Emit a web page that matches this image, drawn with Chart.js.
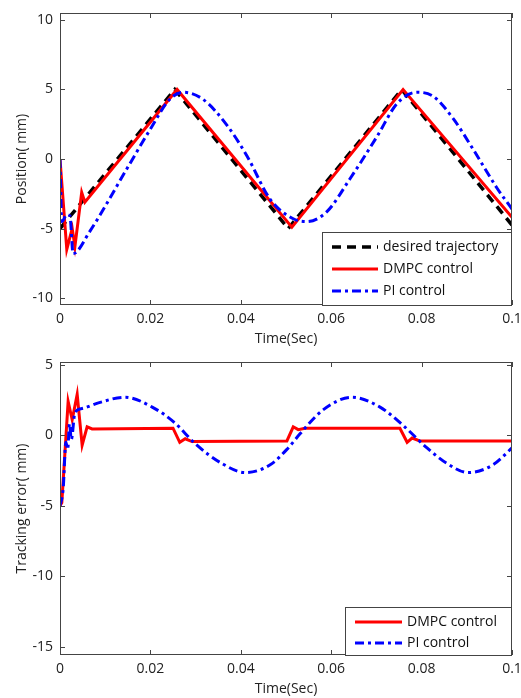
<!DOCTYPE html>
<html>
<head>
<meta charset="utf-8">
<script src="https://cdn.jsdelivr.net/npm/chart.js@4"></script>
<style>
  html, body { margin: 0; padding: 0; background: #fff; }
  #wrap { position: relative; width: 521px; height: 698px; overflow: hidden; }
  canvas { position: absolute; left: 0; }
  #posChart { top: 0; }
  #errChart { top: 340px; }
</style>
</head>
<body>
<div id="wrap">
  <canvas id="posChart" width="521" height="350"></canvas>
  <canvas id="errChart" width="521" height="358"></canvas>
</div>
<script>
// position (mm) over time (s)
const timeDesired = [0, 0.0254, 0.0505, 0.0756, 0.1];
const posDesired = [-5, 5, -5, 5, -4.75];

const timeDmpc = [0, 0.0015, 0.0027, 0.0033, 0.0048, 0.0055, 0.0259, 0.0513, 0.0759, 0.1];
const posDmpc = [0, -6.5, -5, -6.3, -2.4, -3.1, 5, -4.9, 5, -4.2];

const timePi = [0, 0.0004, 0.0015, 0.0022, 0.0029, 0.0066, 0.0148, 0.0199, 0.0243, 0.0272,
  0.0316, 0.037, 0.0414, 0.0465, 0.0516, 0.0546, 0.059, 0.0642, 0.0701, 0.0746,
  0.079, 0.0826, 0.087, 0.0914, 0.0967, 0.1];
const posPi = [0, -4.5, -4, -4.1, -6.8, -5.2, -0.7, 2.1, 4.3, 4.8,
  4.3, 2.4, 0.2, -2.9, -4.3, -4.5, -3.8, -1.4, 1.6, 4.0,
  4.8, 4.5, 2.9, 0.7, -2.1, -3.6];

// tracking error (mm) over time (s)
const timeErrDmpc = [0, 0.0004, 0.0018, 0.0027, 0.0038, 0.0049, 0.006, 0.0071, 0.025, 0.0265,
  0.0277, 0.0292, 0.0502, 0.0516, 0.0527, 0.0542, 0.0752, 0.0768, 0.0779, 0.0796, 0.1];
const errDmpc = [-5, -4.8, 2.4, 1.1, 2.9, -0.7, 0.6, 0.45, 0.5, -0.5,
  -0.25, -0.45, -0.4, 0.6, 0.4, 0.5, 0.5, -0.5, -0.2, -0.4, -0.4];

const timeErrPi = [0, 0.0007, 0.0013, 0.0017, 0.0021, 0.0025, 0.0033, 0.0049, 0.0085, 0.0144,
  0.0204, 0.0255, 0.0299, 0.0358, 0.041, 0.0465, 0.0505, 0.0531, 0.0582, 0.0646,
  0.0708, 0.0759, 0.0812, 0.0856, 0.0903, 0.0958, 0.1];
const errPi = [-5, -3.8, -0.5, -1.0, 0.8, -0.3, 1.6, 1.9, 2.3, 2.7,
  2.0, 0.85, -0.6, -2.0, -2.65, -2.1, -0.9, 0.1, 1.8, 2.7,
  2.0, 0.7, -0.9, -2.0, -2.65, -2.1, -0.9];

const timeTicks = [0, 0.02, 0.04, 0.06, 0.08, 0.1];

Chart.defaults.font.family = "'Open Sans', sans-serif";
Chart.defaults.font.size = 14;
Chart.defaults.color = '#222';

const toXY = (xs, ys) => xs.map((x, i) => ({ x, y: ys[i] }));

// box around the plot area with short inward ticks on all four sides
const framePlugin = {
  id: 'frame',
  afterDatasetsDraw(chart) {
    const { ctx, chartArea: a, scales } = chart;
    ctx.save();
    ctx.strokeStyle = '#444';
    ctx.lineWidth = 1;
    ctx.strokeRect(a.left + 0.5, a.top + 0.5, a.width - 1, a.height - 1);
    ctx.beginPath();
    scales.x.ticks.forEach(t => {
      const px = Math.round(scales.x.getPixelForValue(t.value)) + 0.5;
      ctx.moveTo(px, a.bottom); ctx.lineTo(px, a.bottom - 5);
      ctx.moveTo(px, a.top); ctx.lineTo(px, a.top + 5);
    });
    scales.y.ticks.forEach(t => {
      const py = Math.round(scales.y.getPixelForValue(t.value)) + 0.5;
      ctx.moveTo(a.left, py); ctx.lineTo(a.left + 5, py);
      ctx.moveTo(a.right, py); ctx.lineTo(a.right - 5, py);
    });
    ctx.stroke();
    ctx.restore();
  }
};

// legend box in the lower right corner of the plot area
const boxLegendPlugin = {
  id: 'boxLegend',
  afterDraw(chart, args, opts) {
    const { ctx, chartArea: a } = chart;
    const left = a.right - opts.width;
    const top = a.bottom - opts.height;
    ctx.save();
    ctx.fillStyle = '#fff';
    ctx.fillRect(left, top, opts.width, opts.height);
    ctx.strokeStyle = '#444';
    ctx.lineWidth = 1;
    ctx.strokeRect(left + 0.5, top + 0.5, opts.width - 1, opts.height);
    ctx.font = "14px 'Open Sans', sans-serif";
    ctx.textBaseline = 'middle';
    chart.data.datasets.forEach((ds, i) => {
      const y = top + opts.rows[i];
      ctx.beginPath();
      ctx.strokeStyle = ds.borderColor;
      ctx.lineWidth = ds.borderWidth;
      ctx.setLineDash(ds.borderDash || []);
      ctx.moveTo(left + 10, y);
      ctx.lineTo(left + 10 + opts.sample, y);
      ctx.stroke();
      ctx.setLineDash([]);
      ctx.fillStyle = '#111';
      ctx.fillText(ds.label, left + opts.sample + 15, y);
    });
    ctx.restore();
  }
};

function lineChart(canvas, cfg) {
  return new Chart(canvas, {
    type: 'line',
    data: { datasets: cfg.datasets },
    plugins: [framePlugin, boxLegendPlugin],
    options: {
      responsive: false,
      animation: false,
      devicePixelRatio: 1,
      layout: { padding: { left: 0, right: 9, top: cfg.top, bottom: 0 } },
      elements: { point: { radius: 0 } },
      plugins: {
        legend: { display: false },
        tooltip: { enabled: false },
        boxLegend: cfg.legend
      },
      scales: {
        x: {
          type: 'linear',
          min: 0,
          max: 0.1,
          afterBuildTicks: s => { s.ticks = timeTicks.map(v => ({ value: v })); },
          afterFit: s => { s.height = cfg.xHeight; s.paddingLeft = 0; s.paddingRight = 0; },
          grid: { display: false, drawTicks: false },
          border: { display: false },
          ticks: { padding: 6, maxRotation: 0, autoSkip: false, callback: v => String(+v.toFixed(2)) },
          title: { display: true, text: 'Time(Sec)', padding: { top: 0, bottom: cfg.titlePad } }
        },
        y: {
          min: cfg.yMin,
          max: cfg.yMax,
          afterFit: s => { s.width = 60; s.paddingTop = 0; s.paddingBottom = 0; },
          grid: { display: false, drawTicks: false },
          border: { display: false },
          ticks: { stepSize: 5, includeBounds: false, padding: 7 },
          title: { display: true, text: cfg.yTitle, padding: { top: 14, bottom: 0 } }
        }
      }
    }
  });
}

const desiredStyle = { label: 'desired trajectory', borderColor: '#000', borderWidth: 3.5, borderDash: [9, 6], tension: 0 };
const dmpcStyle = { label: 'DMPC control', borderColor: '#f00', borderWidth: 3, tension: 0 };
const piStyle = { label: 'PI control', borderColor: '#0000ff', borderWidth: 3, borderDash: [9, 4, 3, 4], cubicInterpolationMode: 'monotone' };

lineChart(document.getElementById('posChart'), {
  top: 13,
  xHeight: 45,
  titlePad: 3,
  yMin: -10.5,
  yMax: 10.5,
  yTitle: 'Position( mm)',
  legend: { width: 190, height: 73, sample: 46, rows: [15, 37, 59] },
  datasets: [
    { ...desiredStyle, data: toXY(timeDesired, posDesired), order: 3 },
    { ...dmpcStyle, data: toXY(timeDmpc, posDmpc), order: 2 },
    { ...piStyle, data: toXY(timePi, posPi), order: 1 }
  ]
});

lineChart(document.getElementById('errChart'), {
  top: 22,
  xHeight: 43,
  titlePad: 1,
  yMin: -15.6,
  yMax: 5.2,
  yTitle: 'Tracking error( mm)',
  legend: { width: 167, height: 48, sample: 47, rows: [15, 36] },
  datasets: [
    { ...dmpcStyle, data: toXY(timeErrDmpc, errDmpc), order: 2 },
    { ...piStyle, data: toXY(timeErrPi, errPi), order: 1 }
  ]
});
</script>
</body>
</html>
